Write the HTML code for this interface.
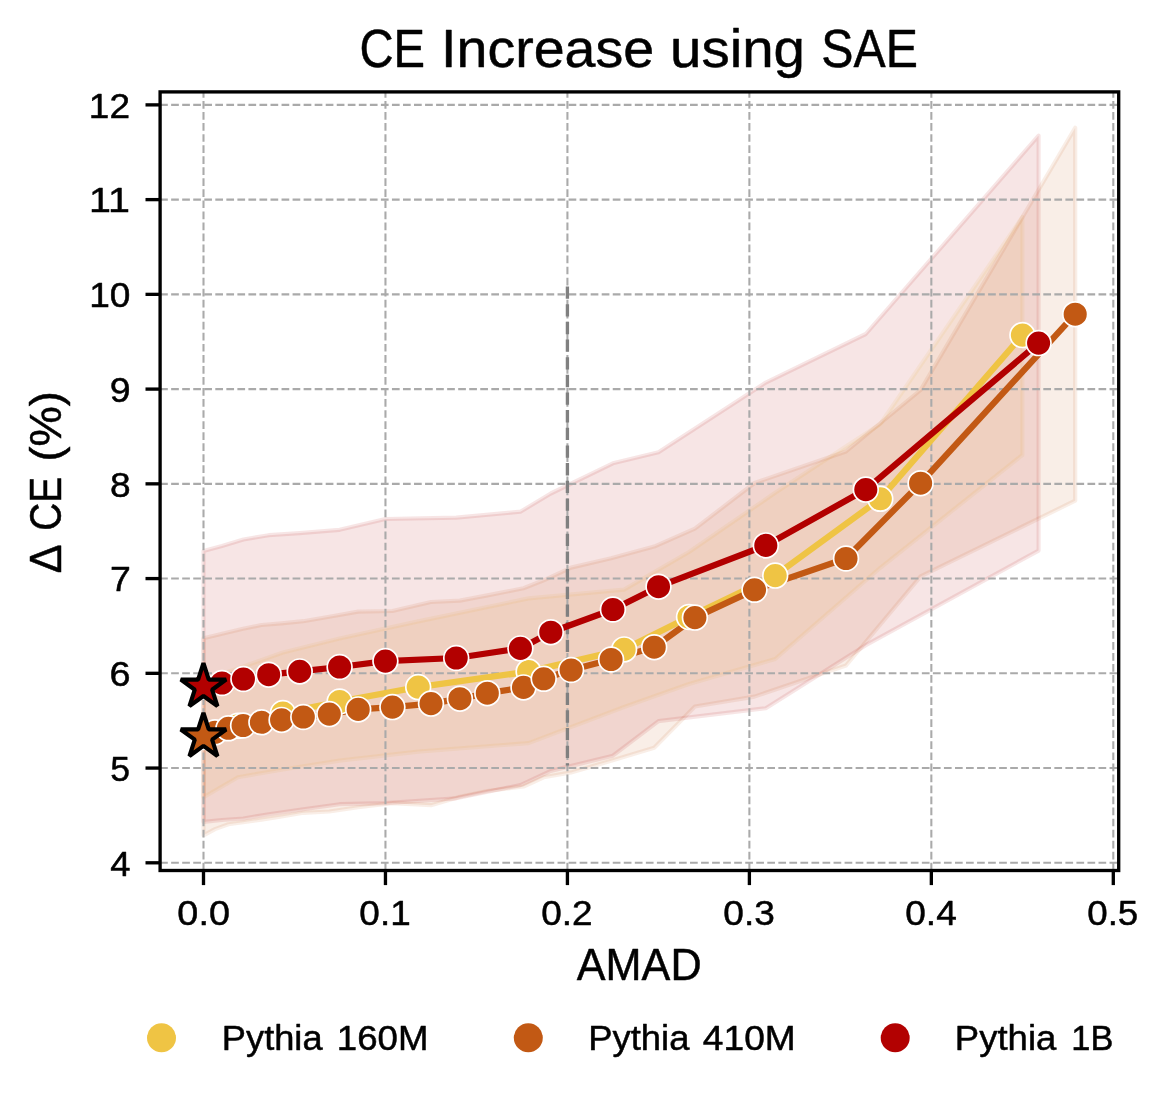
<!DOCTYPE html>
<html><head><meta charset="utf-8"><title>CE Increase using SAE</title>
<style>
html,body{margin:0;padding:0;background:#fff;}
body{width:1169px;height:1100px;overflow:hidden;font-family:"Liberation Sans",sans-serif;}
svg{display:block;}
text{font-family:"Liberation Sans",sans-serif;fill:#000;stroke:#000;stroke-width:0.5px;stroke-linejoin:round;}
</style></head><body>
<svg width="1169" height="1100" viewBox="0 0 1169 1100">
<rect width="1169" height="1100" fill="#fff"/>
<defs><clipPath id="ax"><rect x="160.1" y="91.9" width="958.6" height="778.6"/></clipPath></defs>
<g clip-path="url(#ax)">
<path d="M203.5,680.0 L238.0,668.5 L282.9,652.5 L339.6,638.5 L418.2,621.4 L528.6,598.4 L624.1,589.6 L689.0,552.0 L775.2,492.8 L880.3,424.0 L1022.4,216.9 L1022.4,455.0 L880.3,567.8 L775.2,659.0 L689.0,684.0 L624.1,707.0 L528.6,743.1 L418.2,751.6 L339.6,760.6 L282.9,769.5 L238.0,777.2 L203.5,797.3Z" fill="#efc444" fill-opacity="0.1" stroke="#efc444" stroke-opacity="0.1" stroke-width="4.17" stroke-linejoin="round"/>
<path d="M203.5,638.3 L215.0,635.5 L228.4,632.3 L243.1,628.8 L261.4,625.0 L281.6,623.3 L303.3,621.2 L329.3,616.7 L358.2,611.6 L392.4,611.0 L431.0,602.0 L459.9,600.6 L487.3,595.4 L523.5,588.3 L543.7,580.3 L571.1,567.6 L611.1,558.3 L654.2,546.6 L694.9,528.7 L754.5,483.0 L846.0,451.5 L920.6,390.0 L1075.2,127.7 L1075.2,500.7 L920.6,576.4 L846.0,665.5 L754.5,696.6 L694.9,706.5 L654.2,747.8 L611.1,760.7 L571.1,772.4 L543.7,777.3 L523.5,786.5 L487.3,791.0 L459.9,796.8 L431.0,805.2 L392.4,803.2 L358.2,807.2 L329.3,811.5 L303.3,812.8 L281.6,816.5 L261.4,819.6 L243.1,822.2 L228.4,824.3 L215.0,829.1 L203.5,835.3Z" fill="#c25914" fill-opacity="0.1" stroke="#c25914" stroke-opacity="0.1" stroke-width="4.17" stroke-linejoin="round"/>
<path d="M203.5,551.1 L222.0,546.0 L243.4,539.5 L268.7,535.2 L299.7,533.1 L339.6,529.8 L385.4,519.0 L456.2,517.7 L520.4,511.7 L550.8,493.5 L612.9,463.3 L658.5,452.3 L765.8,382.6 L865.8,334.0 L1038.6,135.6 L1038.6,550.6 L865.8,645.2 L765.8,708.2 L658.5,721.1 L612.9,755.7 L550.8,770.9 L520.4,785.1 L456.2,798.3 L385.4,803.2 L339.6,804.2 L299.7,809.7 L268.7,814.2 L243.4,818.5 L222.0,820.0 L203.5,821.9Z" fill="#b20000" fill-opacity="0.1" stroke="#b20000" stroke-opacity="0.1" stroke-width="4.17" stroke-linejoin="round"/>
<line x1="203.50" y1="870.5" x2="203.50" y2="91.9" stroke="#aaaaaa" stroke-opacity="1" stroke-width="2.08" stroke-dasharray="7.71 3.33"/>
<line x1="385.46" y1="870.5" x2="385.46" y2="91.9" stroke="#aaaaaa" stroke-opacity="1" stroke-width="2.08" stroke-dasharray="7.71 3.33"/>
<line x1="567.42" y1="870.5" x2="567.42" y2="91.9" stroke="#aaaaaa" stroke-opacity="1" stroke-width="2.08" stroke-dasharray="7.71 3.33"/>
<line x1="749.38" y1="870.5" x2="749.38" y2="91.9" stroke="#aaaaaa" stroke-opacity="1" stroke-width="2.08" stroke-dasharray="7.71 3.33"/>
<line x1="931.34" y1="870.5" x2="931.34" y2="91.9" stroke="#aaaaaa" stroke-opacity="1" stroke-width="2.08" stroke-dasharray="7.71 3.33"/>
<line x1="1113.30" y1="870.5" x2="1113.30" y2="91.9" stroke="#aaaaaa" stroke-opacity="1" stroke-width="2.08" stroke-dasharray="7.71 3.33"/>
<line x1="160.1" y1="862.80" x2="1118.7" y2="862.80" stroke="#aaaaaa" stroke-opacity="1" stroke-width="2.08" stroke-dasharray="7.71 3.33"/>
<line x1="160.1" y1="768.06" x2="1118.7" y2="768.06" stroke="#aaaaaa" stroke-opacity="1" stroke-width="2.08" stroke-dasharray="7.71 3.33"/>
<line x1="160.1" y1="673.32" x2="1118.7" y2="673.32" stroke="#aaaaaa" stroke-opacity="1" stroke-width="2.08" stroke-dasharray="7.71 3.33"/>
<line x1="160.1" y1="578.58" x2="1118.7" y2="578.58" stroke="#aaaaaa" stroke-opacity="1" stroke-width="2.08" stroke-dasharray="7.71 3.33"/>
<line x1="160.1" y1="483.84" x2="1118.7" y2="483.84" stroke="#aaaaaa" stroke-opacity="1" stroke-width="2.08" stroke-dasharray="7.71 3.33"/>
<line x1="160.1" y1="389.10" x2="1118.7" y2="389.10" stroke="#aaaaaa" stroke-opacity="1" stroke-width="2.08" stroke-dasharray="7.71 3.33"/>
<line x1="160.1" y1="294.36" x2="1118.7" y2="294.36" stroke="#aaaaaa" stroke-opacity="1" stroke-width="2.08" stroke-dasharray="7.71 3.33"/>
<line x1="160.1" y1="199.62" x2="1118.7" y2="199.62" stroke="#aaaaaa" stroke-opacity="1" stroke-width="2.08" stroke-dasharray="7.71 3.33"/>
<line x1="160.1" y1="104.88" x2="1118.7" y2="104.88" stroke="#aaaaaa" stroke-opacity="1" stroke-width="2.08" stroke-dasharray="7.71 3.33"/>
<line x1="567.42" y1="286.5" x2="567.42" y2="765.5" stroke="#808080" stroke-width="3.33" stroke-dasharray="12.33 5.33"/>
<path d="M203.5,737.0 L238.0,725.8 L282.9,713.0 L339.6,701.5 L418.2,687.1 L528.6,671.6 L624.1,649.4 L689.0,617.0 L775.2,575.6 L880.3,498.8 L1022.4,335.1" fill="none" stroke="#efc444" stroke-width="6.25" stroke-linejoin="round" stroke-linecap="butt"/>
<path d="M203.5,736.8 L215.0,732.3 L228.4,728.3 L243.1,725.5 L261.4,722.3 L281.6,719.9 L303.3,717.0 L329.3,714.1 L358.2,709.4 L392.4,707.1 L431.0,703.6 L459.9,698.7 L487.3,693.2 L523.5,687.4 L543.7,678.8 L571.1,670.0 L611.1,659.5 L654.2,647.2 L694.9,617.6 L754.5,589.8 L846.0,558.5 L920.6,483.2 L1075.2,314.2" fill="none" stroke="#c25914" stroke-width="6.25" stroke-linejoin="round" stroke-linecap="butt"/>
<path d="M203.5,686.5 L222.0,683.0 L243.4,679.0 L268.7,674.7 L299.7,671.4 L339.6,667.0 L385.4,661.1 L456.2,658.0 L520.4,648.4 L550.8,632.2 L612.9,609.5 L658.5,586.7 L765.8,545.4 L865.8,489.6 L1038.6,343.1" fill="none" stroke="#b20000" stroke-width="6.25" stroke-linejoin="round" stroke-linecap="butt"/>
<circle cx="203.5" cy="737.0" r="12.4" fill="#efc444" stroke="#fff" stroke-width="1.7"/><circle cx="238.0" cy="725.8" r="12.4" fill="#efc444" stroke="#fff" stroke-width="1.7"/><circle cx="282.9" cy="713.0" r="12.4" fill="#efc444" stroke="#fff" stroke-width="1.7"/><circle cx="339.6" cy="701.5" r="12.4" fill="#efc444" stroke="#fff" stroke-width="1.7"/><circle cx="418.2" cy="687.1" r="12.4" fill="#efc444" stroke="#fff" stroke-width="1.7"/><circle cx="528.6" cy="671.6" r="12.4" fill="#efc444" stroke="#fff" stroke-width="1.7"/><circle cx="624.1" cy="649.4" r="12.4" fill="#efc444" stroke="#fff" stroke-width="1.7"/><circle cx="689.0" cy="617.0" r="12.4" fill="#efc444" stroke="#fff" stroke-width="1.7"/><circle cx="775.2" cy="575.6" r="12.4" fill="#efc444" stroke="#fff" stroke-width="1.7"/><circle cx="880.3" cy="498.8" r="12.4" fill="#efc444" stroke="#fff" stroke-width="1.7"/><circle cx="1022.4" cy="335.1" r="12.4" fill="#efc444" stroke="#fff" stroke-width="1.7"/>
<circle cx="203.5" cy="736.8" r="12.4" fill="#c25914" stroke="#fff" stroke-width="1.7"/><circle cx="215.0" cy="732.3" r="12.4" fill="#c25914" stroke="#fff" stroke-width="1.7"/><circle cx="228.4" cy="728.3" r="12.4" fill="#c25914" stroke="#fff" stroke-width="1.7"/><circle cx="243.1" cy="725.5" r="12.4" fill="#c25914" stroke="#fff" stroke-width="1.7"/><circle cx="261.4" cy="722.3" r="12.4" fill="#c25914" stroke="#fff" stroke-width="1.7"/><circle cx="281.6" cy="719.9" r="12.4" fill="#c25914" stroke="#fff" stroke-width="1.7"/><circle cx="303.3" cy="717.0" r="12.4" fill="#c25914" stroke="#fff" stroke-width="1.7"/><circle cx="329.3" cy="714.1" r="12.4" fill="#c25914" stroke="#fff" stroke-width="1.7"/><circle cx="358.2" cy="709.4" r="12.4" fill="#c25914" stroke="#fff" stroke-width="1.7"/><circle cx="392.4" cy="707.1" r="12.4" fill="#c25914" stroke="#fff" stroke-width="1.7"/><circle cx="431.0" cy="703.6" r="12.4" fill="#c25914" stroke="#fff" stroke-width="1.7"/><circle cx="459.9" cy="698.7" r="12.4" fill="#c25914" stroke="#fff" stroke-width="1.7"/><circle cx="487.3" cy="693.2" r="12.4" fill="#c25914" stroke="#fff" stroke-width="1.7"/><circle cx="523.5" cy="687.4" r="12.4" fill="#c25914" stroke="#fff" stroke-width="1.7"/><circle cx="543.7" cy="678.8" r="12.4" fill="#c25914" stroke="#fff" stroke-width="1.7"/><circle cx="571.1" cy="670.0" r="12.4" fill="#c25914" stroke="#fff" stroke-width="1.7"/><circle cx="611.1" cy="659.5" r="12.4" fill="#c25914" stroke="#fff" stroke-width="1.7"/><circle cx="654.2" cy="647.2" r="12.4" fill="#c25914" stroke="#fff" stroke-width="1.7"/><circle cx="694.9" cy="617.6" r="12.4" fill="#c25914" stroke="#fff" stroke-width="1.7"/><circle cx="754.5" cy="589.8" r="12.4" fill="#c25914" stroke="#fff" stroke-width="1.7"/><circle cx="846.0" cy="558.5" r="12.4" fill="#c25914" stroke="#fff" stroke-width="1.7"/><circle cx="920.6" cy="483.2" r="12.4" fill="#c25914" stroke="#fff" stroke-width="1.7"/><circle cx="1075.2" cy="314.2" r="12.4" fill="#c25914" stroke="#fff" stroke-width="1.7"/>
<circle cx="203.5" cy="686.5" r="12.4" fill="#b20000" stroke="#fff" stroke-width="1.7"/><circle cx="222.0" cy="683.0" r="12.4" fill="#b20000" stroke="#fff" stroke-width="1.7"/><circle cx="243.4" cy="679.0" r="12.4" fill="#b20000" stroke="#fff" stroke-width="1.7"/><circle cx="268.7" cy="674.7" r="12.4" fill="#b20000" stroke="#fff" stroke-width="1.7"/><circle cx="299.7" cy="671.4" r="12.4" fill="#b20000" stroke="#fff" stroke-width="1.7"/><circle cx="339.6" cy="667.0" r="12.4" fill="#b20000" stroke="#fff" stroke-width="1.7"/><circle cx="385.4" cy="661.1" r="12.4" fill="#b20000" stroke="#fff" stroke-width="1.7"/><circle cx="456.2" cy="658.0" r="12.4" fill="#b20000" stroke="#fff" stroke-width="1.7"/><circle cx="520.4" cy="648.4" r="12.4" fill="#b20000" stroke="#fff" stroke-width="1.7"/><circle cx="550.8" cy="632.2" r="12.4" fill="#b20000" stroke="#fff" stroke-width="1.7"/><circle cx="612.9" cy="609.5" r="12.4" fill="#b20000" stroke="#fff" stroke-width="1.7"/><circle cx="658.5" cy="586.7" r="12.4" fill="#b20000" stroke="#fff" stroke-width="1.7"/><circle cx="765.8" cy="545.4" r="12.4" fill="#b20000" stroke="#fff" stroke-width="1.7"/><circle cx="865.8" cy="489.6" r="12.4" fill="#b20000" stroke="#fff" stroke-width="1.7"/><circle cx="1038.6" cy="343.1" r="12.4" fill="#b20000" stroke="#fff" stroke-width="1.7"/>
<path d="M203.45,713.00 L198.11,729.45 L180.81,729.45 L194.80,739.61 L189.46,756.05 L203.45,745.89 L217.44,756.05 L212.10,739.61 L226.09,729.45 L208.79,729.45Z" fill="#c25914" stroke="#000" stroke-width="4.17" stroke-linejoin="bevel"/>
<path d="M203.45,663.10 L198.11,679.55 L180.81,679.55 L194.80,689.71 L189.46,706.15 L203.45,695.99 L217.44,706.15 L212.10,689.71 L226.09,679.55 L208.79,679.55Z" fill="#b20000" stroke="#000" stroke-width="4.17" stroke-linejoin="bevel"/>
</g>
<rect x="160.1" y="91.9" width="958.6" height="778.6" fill="none" stroke="#000" stroke-width="3.33" stroke-linejoin="miter"/>
<line x1="203.50" y1="870.5" x2="203.50" y2="885.10" stroke="#000" stroke-width="3.33"/>
<line x1="385.46" y1="870.5" x2="385.46" y2="885.10" stroke="#000" stroke-width="3.33"/>
<line x1="567.42" y1="870.5" x2="567.42" y2="885.10" stroke="#000" stroke-width="3.33"/>
<line x1="749.38" y1="870.5" x2="749.38" y2="885.10" stroke="#000" stroke-width="3.33"/>
<line x1="931.34" y1="870.5" x2="931.34" y2="885.10" stroke="#000" stroke-width="3.33"/>
<line x1="1113.30" y1="870.5" x2="1113.30" y2="885.10" stroke="#000" stroke-width="3.33"/>
<line x1="160.1" y1="862.80" x2="145.50" y2="862.80" stroke="#000" stroke-width="3.33"/>
<line x1="160.1" y1="768.06" x2="145.50" y2="768.06" stroke="#000" stroke-width="3.33"/>
<line x1="160.1" y1="673.32" x2="145.50" y2="673.32" stroke="#000" stroke-width="3.33"/>
<line x1="160.1" y1="578.58" x2="145.50" y2="578.58" stroke="#000" stroke-width="3.33"/>
<line x1="160.1" y1="483.84" x2="145.50" y2="483.84" stroke="#000" stroke-width="3.33"/>
<line x1="160.1" y1="389.10" x2="145.50" y2="389.10" stroke="#000" stroke-width="3.33"/>
<line x1="160.1" y1="294.36" x2="145.50" y2="294.36" stroke="#000" stroke-width="3.33"/>
<line x1="160.1" y1="199.62" x2="145.50" y2="199.62" stroke="#000" stroke-width="3.33"/>
<line x1="160.1" y1="104.88" x2="145.50" y2="104.88" stroke="#000" stroke-width="3.33"/>
<g opacity="0.999">
<circle cx="161.5" cy="1037.8" r="14.5" fill="#efc444"/>
<circle cx="528.3" cy="1037.8" r="14.5" fill="#c25914"/>
<circle cx="895.2" cy="1037.8" r="14.5" fill="#b20000"/>
<text x="359.44" y="67.00" font-size="52.8" textLength="65.61" lengthAdjust="spacingAndGlyphs">CE</text>
<text x="441.10" y="67.00" font-size="52.8" textLength="212.92" lengthAdjust="spacingAndGlyphs">Increase</text>
<text x="670.07" y="67.00" font-size="52.8" textLength="134.93" lengthAdjust="spacingAndGlyphs">using</text>
<text x="821.29" y="67.00" font-size="52.8" textLength="96.57" lengthAdjust="spacingAndGlyphs">SAE</text>
<text x="576.83" y="980.40" font-size="44.3" textLength="124.73" lengthAdjust="spacingAndGlyphs">AMAD</text>
<text x="177.38" y="925.20" font-size="35.3" textLength="52.53" lengthAdjust="spacingAndGlyphs">0.0</text>
<text x="359.38" y="925.20" font-size="35.3" textLength="51.30" lengthAdjust="spacingAndGlyphs">0.1</text>
<text x="541.34" y="925.20" font-size="35.3" textLength="51.33" lengthAdjust="spacingAndGlyphs">0.2</text>
<text x="723.29" y="925.20" font-size="35.3" textLength="51.51" lengthAdjust="spacingAndGlyphs">0.3</text>
<text x="905.25" y="925.20" font-size="35.3" textLength="51.51" lengthAdjust="spacingAndGlyphs">0.4</text>
<text x="1087.22" y="925.20" font-size="35.3" textLength="51.05" lengthAdjust="spacingAndGlyphs">0.5</text>
<text x="110.19" y="875.65" font-size="35.3" textLength="20.24" lengthAdjust="spacingAndGlyphs">4</text>
<text x="110.34" y="780.91" font-size="35.3" textLength="19.81" lengthAdjust="spacingAndGlyphs">5</text>
<text x="109.61" y="686.17" font-size="35.3" textLength="21.04" lengthAdjust="spacingAndGlyphs">6</text>
<text x="109.93" y="591.43" font-size="35.3" textLength="20.84" lengthAdjust="spacingAndGlyphs">7</text>
<text x="109.98" y="496.69" font-size="35.3" textLength="20.64" lengthAdjust="spacingAndGlyphs">8</text>
<text x="109.83" y="401.95" font-size="35.3" textLength="20.84" lengthAdjust="spacingAndGlyphs">9</text>
<text x="89.22" y="307.21" font-size="35.3" textLength="41.27" lengthAdjust="spacingAndGlyphs">10</text>
<text x="88.94" y="212.47" font-size="35.3" textLength="40.95" lengthAdjust="spacingAndGlyphs">11</text>
<text x="88.83" y="117.73" font-size="35.3" textLength="41.11" lengthAdjust="spacingAndGlyphs">12</text>
<text x="221.86" y="1049.80" font-size="35.3" textLength="100.67" lengthAdjust="spacingAndGlyphs">Pythia</text>
<text x="336.85" y="1049.80" font-size="35.3" textLength="91.57" lengthAdjust="spacingAndGlyphs">160M</text>
<text x="588.34" y="1049.80" font-size="35.3" textLength="101.08" lengthAdjust="spacingAndGlyphs">Pythia</text>
<text x="702.87" y="1049.80" font-size="35.3" textLength="92.90" lengthAdjust="spacingAndGlyphs">410M</text>
<text x="954.83" y="1049.80" font-size="35.3" textLength="101.50" lengthAdjust="spacingAndGlyphs">Pythia</text>
<text x="1071.32" y="1049.80" font-size="35.3" textLength="42.05" lengthAdjust="spacingAndGlyphs">1B</text>
<text transform="translate(61.4,573.15) rotate(-90)" font-size="44.3" textLength="28.76" lengthAdjust="spacingAndGlyphs">Δ</text>
<text transform="translate(61.4,530.74) rotate(-90)" font-size="44.3" textLength="53.79" lengthAdjust="spacingAndGlyphs">CE</text>
<text transform="translate(61.4,461.53) rotate(-90)" font-size="44.3" textLength="70.41" lengthAdjust="spacingAndGlyphs">(%)</text>
</g>
</svg></body></html>
